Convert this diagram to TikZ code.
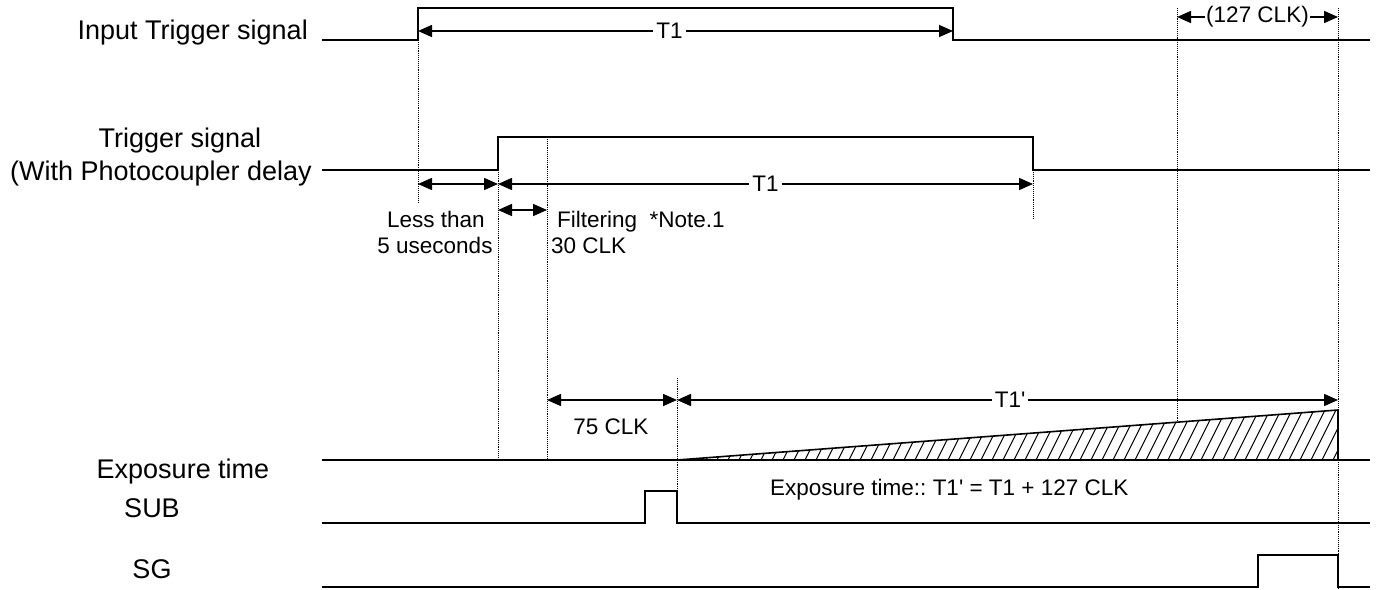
\documentclass[tikz,border=0pt]{standalone}
\usepackage{fontspec}
\setmainfont{Liberation Sans}
\usetikzlibrary{arrows.meta}
\frenchspacing
\begin{document}
\begin{tikzpicture}[x=1pt,y=-1pt,
  sig/.style={line width=2pt},
  guide/.style={line width=0.9pt, densely dotted},
  dim/.style={line width=1.6pt,{Triangle[length=14pt,width=12pt]}-{Triangle[length=14pt,width=12pt]}},
  big/.style={font=\fontsize{27}{32}\selectfont, inner sep=0pt},
  small/.style={font=\fontsize{22.5}{26}\selectfont, inner sep=0pt},
  dimlabel/.style={small, fill=white, inner xsep=3pt, inner ysep=1pt}]
\useasboundingbox (0,0) rectangle (1378,589);

% ---------- labels ----------
\node[big, anchor=base east] (lit) at (308,39) {Input Trigger signal};
\node[big, anchor=base] (lts1) at (180,147) {Trigger signal};
\node[big, anchor=base east] (lts2) at (312,180) {(With Photocoupler delay};
\node[big, anchor=base] (lex) at (183,478) {Exposure time};
\node[big, anchor=base] (lsub) at (152,517) {SUB};
\node[big, anchor=base] (lsg) at (152,578) {SG};

% ---------- Input trigger ----------
\coordinate (it0) at (322,40);
\coordinate (itA) at (418,40);
\coordinate (itB) at (418,8);
\coordinate (itC) at (953,8);
\coordinate (itD) at (953,40);
\coordinate (itE) at (1370,40);
\draw[sig] (it0) -- (itA) -- (itB) -- (itC) -- (itD) -- (itE);

% ---------- Trigger signal ----------
\coordinate (ts0) at (322,170);
\coordinate (tsA) at (498,170);
\coordinate (tsB) at (498,137);
\coordinate (tsC) at (1033,137);
\coordinate (tsD) at (1033,170);
\coordinate (tsE) at (1370,170);
\draw[sig] (ts0) -- (tsA) -- (tsB) -- (tsC) -- (tsD) -- (tsE);

% ---------- Exposure ----------
\coordinate (ex0) at (322,460);
\coordinate (exS) at (677,460);
\coordinate (exT) at (1338,410);
\coordinate (exU) at (1338,460);
\coordinate (exE) at (1370,460);
\begin{scope}
\clip (exS) -- (exT) -- (exU) -- cycle;
\foreach \x in {640,651,...,1350} \draw[line width=1pt] (\x,460) -- ++(26,-52);
\end{scope}
\draw[sig] (ex0) -- (exE);
\draw[line width=1.6pt] (exS) -- (exT) -- (exU);

% ---------- SUB ----------
\coordinate (sb0) at (322,523);
\coordinate (sbA) at (645,523);
\coordinate (sbB) at (645,491);
\coordinate (sbC) at (677,491);
\coordinate (sbD) at (677,523);
\coordinate (sbE) at (1370,523);
\draw[sig] (sb0) -- (sbA) -- (sbB) -- (sbC) -- (sbD) -- (sbE);

% ---------- SG ----------
\coordinate (sg0) at (322,587);
\coordinate (sgA) at (1258,587);
\coordinate (sgB) at (1258,555);
\coordinate (sgC) at (1338,555);
\coordinate (sgD) at (1338,587);
\coordinate (sgE) at (1370,587);
\draw[sig] (sg0) -- (sgA) -- (sgB) -- (sgC) -- (sgD) -- (sgE);

% ---------- dotted guides ----------
\coordinate (g1a) at (418,40);  \coordinate (g1b) at (418,203);
\coordinate (g2a) at (498,170); \coordinate (g2b) at (498,460);
\coordinate (g3a) at (547,137); \coordinate (g3b) at (547,460);
\coordinate (g4a) at (677,378); \coordinate (g4b) at (677,523);
\coordinate (g5a) at (1033,170);\coordinate (g5b) at (1033,218);
\coordinate (g6a) at (1177,8);  \coordinate (g6b) at (1177,422);
\coordinate (g7a) at (1338,8);  \coordinate (g7b) at (1338,589);
\foreach \a/\b in {g1a/g1b,g2a/g2b,g3a/g3b,g4a/g4b,g5a/g5b,g6a/g6b,g7a/g7b}
  \draw[guide] (\a) -- (\b);

% ---------- dimension arrows ----------
\coordinate (d1a) at (418,31);  \coordinate (d1b) at (953,31);
\draw[dim] (d1a) -- node[dimlabel, pos=0.47] (t1a) {T1} (d1b);

\coordinate (d2a) at (1177,17); \coordinate (d2b) at (1338,17);
\draw[dim] (d2a) -- node[dimlabel, inner xsep=1pt] (c127) {(127 CLK)} (d2b);

\coordinate (d3a) at (418,184); \coordinate (d3b) at (498,184);
\draw[dim] (d3a) -- (d3b);
\coordinate (d4a) at (498,184); \coordinate (d4b) at (1033,184);
\draw[dim] (d4a) -- node[dimlabel, pos=0.5] (t1b) {T1} (d4b);

\coordinate (d5a) at (498,210); \coordinate (d5b) at (547,210);
\draw[dim] (d5a) -- (d5b);

\coordinate (d6a) at (547,400); \coordinate (d6b) at (677,400);
\draw[dim] (d6a) -- (d6b);
\coordinate (d7a) at (677,400); \coordinate (d7b) at (1338,400);
\draw[dim] (d7a) -- node[dimlabel, pos=0.504] (t1p) {T1\textquotesingle} (d7b);

% ---------- small texts ----------
\node[small, anchor=base] (lt1) at (436,227) {Less than};
\node[small, anchor=base] (lt2) at (435,253) {5 useconds};
\node[small, anchor=base west] (flt) at (557,227) {Filtering\ \ *Note.1};
\node[small, anchor=base west] (c30) at (551,253) {30 CLK};
\node[small, anchor=base] (c75) at (611,434) {75 CLK};
\node[small, anchor=base west] (eqn) at (770,495) {Exposure time:: T1\textquotesingle\ = T1 + 127 CLK};
\end{tikzpicture}
\end{document}
